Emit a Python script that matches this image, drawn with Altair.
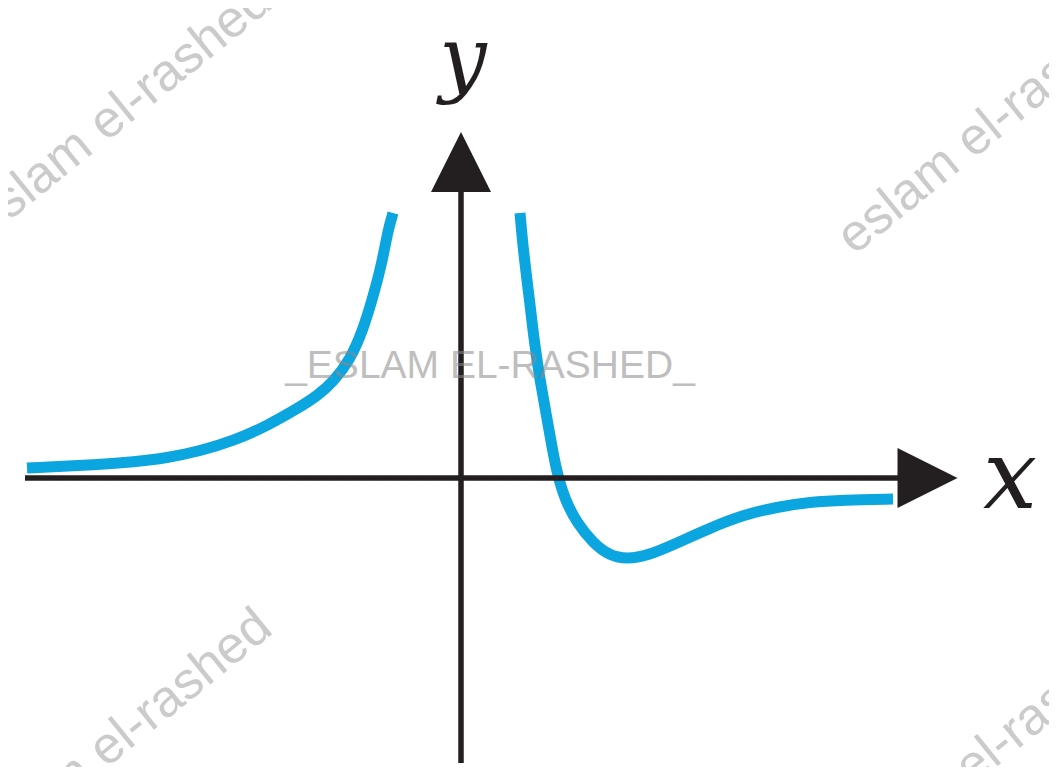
import altair as alt
import pandas as pd

# Curve branches (in axis units)
left_x = [-4.34, -3.61, -3.28, -2.94, -2.61, -2.28, -1.94, -1.61, -1.44, -1.28, -1.11, -0.98, -0.88, -0.79, -0.73, -0.68]
left_y = [0.10, 0.135, 0.16, 0.20, 0.27, 0.37, 0.52, 0.71, 0.82, 0.96, 1.18, 1.48, 1.81, 2.15, 2.48, 2.65]
right_x = [0.59, 0.62, 0.66, 0.70, 0.74, 0.79, 0.85, 0.91, 0.96, 1.04, 1.16, 1.32, 1.49, 1.66, 1.86, 2.16, 2.49, 2.82, 3.16, 3.49, 3.82, 4.32]
right_y = [2.65, 2.31, 1.98, 1.65, 1.31, 0.98, 0.65, 0.31, 0.05, -0.22, -0.45, -0.65, -0.78, -0.81, -0.78, -0.65, -0.50, -0.37, -0.29, -0.24, -0.22, -0.21]

# Axis extents
axis_x_from, axis_x_to = -4.36, 4.45
axis_y_from, axis_y_to = -2.85, 2.90
arrow_x_pos = 4.665
arrow_y_pos = 3.16

# Labels
x_label = {"t": ["x"], "x": [5.49], "y": [-0.30]}
y_label = {"t": ["y"], "x": [0.02], "y": [3.92]}

# Watermarks
wm_text = ["eslam el-rashed", "eslam el-rashed", "eslam el-rashed", "eslam el-rashed"]
wm_x = [-3.40, 5.27, -3.40, 5.26]
wm_y = [3.68, 3.51, -2.58, -2.76]
center_wm_text = ["_ESLAM EL-RASHED_"]
center_wm_x = [0.29]
center_wm_y = [1.0]

X_DOM = [-4.53, 5.88]
Y_DOM = [-2.89, 4.70]
INK = "#231f20"
BLUE = "#0ba5e0"

xs = alt.Scale(domain=X_DOM, nice=False, zero=False)
ys = alt.Scale(domain=Y_DOM, nice=False, zero=False)

curve_df = pd.DataFrame(
    {"x": left_x + right_x,
     "y": left_y + right_y,
     "branch": ["left"] * len(left_x) + ["right"] * len(right_x)}
)

curve = alt.Chart(curve_df).mark_line(
    color=BLUE, strokeWidth=11, interpolate="basis", strokeCap="butt"
).encode(
    x=alt.X("x:Q", scale=xs, axis=None),
    y=alt.Y("y:Q", scale=ys, axis=None),
    detail="branch:N",
)

xaxis_df = pd.DataFrame({"x": [axis_x_from], "x2": [axis_x_to], "y": [0.0]})
xaxis = alt.Chart(xaxis_df).mark_rule(color=INK, strokeWidth=5.5).encode(
    x=alt.X("x:Q", scale=xs, axis=None), x2="x2:Q", y=alt.Y("y:Q", scale=ys, axis=None)
)
yaxis_df = pd.DataFrame({"y": [axis_y_from], "y2": [axis_y_to], "x": [0.0]})
yaxis = alt.Chart(yaxis_df).mark_rule(color=INK, strokeWidth=5.5).encode(
    y=alt.Y("y:Q", scale=ys, axis=None), y2="y2:Q", x=alt.X("x:Q", scale=xs, axis=None)
)

xarrow = alt.Chart(pd.DataFrame({"x": [arrow_x_pos], "y": [0.0]})).mark_point(
    shape="M-1,-1L1,0L-1,1Z", filled=True, size=3600, color=INK, opacity=1, strokeWidth=0
).encode(x=alt.X("x:Q", scale=xs, axis=None), y=alt.Y("y:Q", scale=ys, axis=None))
yarrow = alt.Chart(pd.DataFrame({"x": [0.0], "y": [arrow_y_pos]})).mark_point(
    shape="M-1,1L0,-1L1,1Z", filled=True, size=3600, color=INK, opacity=1, strokeWidth=0
).encode(x=alt.X("x:Q", scale=xs, axis=None), y=alt.Y("y:Q", scale=ys, axis=None))

xlab = alt.Chart(pd.DataFrame(x_label)).mark_text(
    font="DejaVu Serif", fontStyle="italic", fontSize=96, color=INK,
    align="center", baseline="alphabetic"
).encode(x=alt.X("x:Q", scale=xs, axis=None), y=alt.Y("y:Q", scale=ys, axis=None), text="t:N")
ylab = alt.Chart(pd.DataFrame(y_label)).mark_text(
    font="DejaVu Serif", fontStyle="italic", fontSize=84, color=INK,
    align="center", baseline="alphabetic"
).encode(x=alt.X("x:Q", scale=xs, axis=None), y=alt.Y("y:Q", scale=ys, axis=None), text="t:N")

wm = alt.Chart(pd.DataFrame({"t": wm_text, "x": wm_x, "y": wm_y})).mark_text(
    font="Liberation Sans", fontSize=52, color="#cbcbcb", angle=321,
    align="center", baseline="middle"
).encode(x=alt.X("x:Q", scale=xs, axis=None), y=alt.Y("y:Q", scale=ys, axis=None), text="t:N")

cwm = alt.Chart(pd.DataFrame({"t": center_wm_text, "x": center_wm_x, "y": center_wm_y})).mark_text(
    font="Liberation Sans", fontSize=39, color="#8a8a8a", opacity=0.55,
    align="center", baseline="alphabetic"
).encode(x=alt.X("x:Q", scale=xs, axis=None), y=alt.Y("y:Q", scale=ys, axis=None), text="t:N")

chart = alt.layer(curve, xaxis, yaxis, xarrow, yarrow, xlab, ylab, wm, cwm).properties(
    width=1041, height=759,
    autosize=alt.AutoSizeParams(type="none"),
    padding=0,
    background="white",
).configure_view(stroke=None)

chart.save("out.html", embed_options={"renderer": "svg", "actions": False})
